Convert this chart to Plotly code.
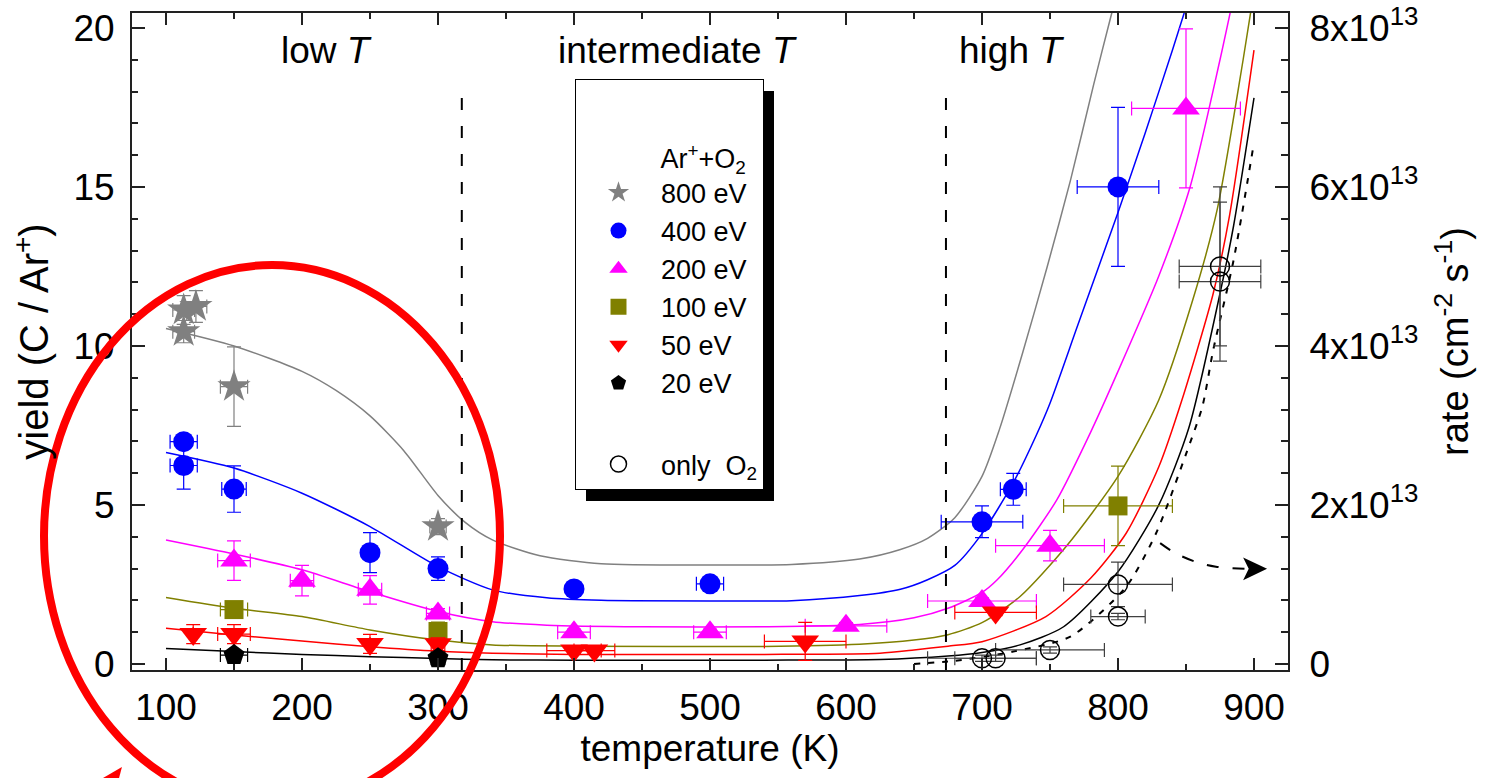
import plotly.graph_objects as go

FONT = "Arial, 'Liberation Sans', Helvetica, sans-serif"

# ---- measured yields, Ar+ + O2 (temperature in K, yield in C per Ar+) ----
T_800 = [113, 122, 113, 150, 300]
Y_800 = [11.13, 11.24, 10.45, 8.72, 4.32]
DX_800 = [8, 8, 8, 10, 6]
DY_800 = [0.45, 0.5, 0.35, 1.25, 0.25]

T_400 = [113, 113, 150, 250, 300, 400, 500, 700, 723, 800]
Y_400 = [6.99, 6.24, 5.50, 3.50, 3.00, 2.36, 2.52, 4.47, 5.49, 15.0]
DX_400 = [10, 10, 9, 0, 0, 0, 10, 30, 9.5, 30]
DY_400 = [0, 0.74, 0.73, 0.63, 0.37, 0, 0, 0.5, 0.5, 2.5]

T_200 = [150, 200, 250, 300, 400, 500, 600, 700, 750, 850]
Y_200 = [3.25, 2.62, 2.33, 1.59, 1.0, 1.0, 1.2, 1.98, 3.72, 17.47]
DX_200 = [12, 8.6, 8.6, 8.5, 12, 12, 30, 40, 40, 40]
DY_200 = [0.62, 0.48, 0.45, 0.15, 0.1, 0.1, 0.1, 0.1, 0.48, 2.5]

T_100 = [150, 300, 800]
Y_100 = [1.71, 1.02, 4.97]
DX_100 = [10, 4, 40]
DY_100 = [0.15, 0.3, 1.25]

T_50 = [120, 150, 250, 300, 400, 415, 570, 710]
Y_50 = [0.94, 0.94, 0.63, 0.62, 0.42, 0.42, 0.71, 1.62]
DX_50 = [0, 12, 0, 5, 20, 15, 30, 30]
DY_50 = [0.3, 0.3, 0.3, 0.2, 0.1, 0.1, 0.6, 0.1]

T_20 = [150, 300]
Y_20 = [0.28, 0.18]
DX_20 = [10, 5]
DY_20 = [0.1, 0.1]

# ---- thermal rate with O2 only (cm^-2 s^-1), right axis ----
T_O2 = [700, 710, 750, 800, 800, 875, 875]
R_O2 = [0.072e13, 0.072e13, 0.176e13, 0.596e13, 1.0e13, 5.0e13, 4.81e13]
DX_O2 = [40, 30, 40, 20, 40, 30, 30]
DR_O2 = [0.04e13, 0.04e13, 0.04e13, 0.04e13, 0.28e13, 1.0e13, 1.0e13]

# ---- model curves ----
FIT_T_800 = [100, 150, 200, 225, 250, 275, 300, 320, 340, 375, 420, 500, 560, 610, 640, 660, 680,
             700, 713, 730, 748, 765, 782, 795, 805]
FIT_Y_800 = [10.55, 10.0, 9.2, 8.6, 7.8, 6.7, 5.3, 4.45, 3.9, 3.4, 3.15, 3.11, 3.13, 3.3, 3.6, 3.95, 4.6,
             5.9, 7.4, 9.8, 12.5, 15.2, 18.2, 20.4, 22.0]

FIT_T_400 = [100, 150, 200, 250, 300, 340, 380, 420, 500, 560, 610, 640, 660, 680, 700, 723, 740, 750,
             770, 800, 820, 840, 860]
FIT_Y_400 = [6.65, 6.16, 5.37, 4.32, 3.06, 2.33, 2.08, 2.0, 1.98, 1.99, 2.15, 2.35, 2.65, 3.1, 4.1, 5.7,
             7.2, 8.2, 10.6, 14.2, 16.7, 19.3, 22.0]

FIT_T_200 = [100, 150, 200, 250, 300, 340, 380, 450, 540, 610, 650, 675, 700, 711, 730, 755, 780, 800,
             830, 853, 875, 890]
FIT_Y_200 = [3.9, 3.46, 2.96, 2.27, 1.65, 1.33, 1.22, 1.17, 1.17, 1.24, 1.45, 1.75, 2.25, 2.64, 3.6, 5.16,
             7.3, 9.2, 12.2, 15.0, 19.0, 22.0]

FIT_T_100 = [100, 150, 200, 250, 300, 340, 400, 540, 610, 650, 675, 700, 728, 762, 800, 830, 855, 873,
             892, 905]
FIT_Y_100 = [2.09, 1.75, 1.49, 1.07, 0.75, 0.6, 0.56, 0.55, 0.62, 0.75, 0.92, 1.3, 2.12, 3.7, 5.9, 8.3,
             11.45, 14.3, 19.0, 22.5]

FIT_T_50 = [100, 150, 200, 250, 300, 340, 400, 540, 625, 650, 675, 700, 747, 780, 806, 830, 847, 870,
            882, 900]
FIT_Y_50 = [1.12, 0.91, 0.72, 0.54, 0.4, 0.34, 0.3, 0.3, 0.34, 0.44, 0.56, 0.7, 1.49, 2.7, 4.11, 6.2,
            8.3, 11.65, 14.1, 19.3]

FIT_T_20 = [100, 150, 200, 250, 300, 340, 400, 540, 625, 675, 700, 728, 760, 800, 830, 852, 875, 885, 900]
FIT_Y_20 = [0.49, 0.39, 0.3, 0.23, 0.17, 0.13, 0.12, 0.12, 0.14, 0.25, 0.36, 0.6, 1.17, 2.9, 5.0, 7.41,
            11.65, 13.78, 17.8]

FIT_T_O2 = [650, 680, 723, 765, 806, 828, 850, 862, 870, 885, 900]
FIT_R_O2 = [0.0, 0.04e13, 0.156e13, 0.344e13, 0.972e13, 1.644e13, 2.64e13, 3.236e13, 3.948e13,
            5.08e13, 6.56e13]

# dashed pointer from the O2 curve towards the rate axis
ARROW_T = [831, 842, 858, 872, 893]
ARROW_Y = [3.8, 3.49, 3.2, 3.06, 2.99]
ARROW_TIP = (909.6, 2.99)

# temperature regimes
REGIME_EDGES = [317.5, 673.5]
REGIME_LABELS = ["low <i>T</i>", "intermediate <i>T</i>", "high <i>T</i>"]
REGIME_CENTERS = [218, 476, 722]

X_RANGE = [75, 925]
Y_RANGE = [-0.19, 20.47]
RATE_PER_YIELD = 4e12

GRAY, BLUE, MAGENTA, OLIVE, RED, BLACK = "#808080", "#0000ff", "#ff00ff", "#808000", "#ff0000", "#000000"

# plot-area geometry (px) used for paper-referenced decorations
PL, PR, PT, PB = 132, 1288, 13, 670


def px(xp):
    return (xp - PL) / (PR - PL)


def py(yp):
    return (PB - yp) / (PB - PT)


fig = go.Figure()


def add_fit(t, y, color, yaxis="y", dash="solid", width=1.5):
    fig.add_trace(go.Scatter(
        x=t, y=y, mode="lines", yaxis=yaxis, showlegend=False, hoverinfo="skip",
        line=dict(color=color, width=width, dash=dash, shape="spline", smoothing=0.7),
    ))


for t, y, c in [(FIT_T_800, FIT_Y_800, GRAY), (FIT_T_400, FIT_Y_400, BLUE),
                (FIT_T_200, FIT_Y_200, MAGENTA), (FIT_T_100, FIT_Y_100, OLIVE),
                (FIT_T_50, FIT_Y_50, RED), (FIT_T_20, FIT_Y_20, BLACK)]:
    add_fit(t, y, c)
add_fit(FIT_T_O2, FIT_R_O2, BLACK, yaxis="y2", dash="6px,8px", width=2)

# dashed pointer
fig.add_trace(go.Scatter(x=ARROW_T, y=ARROW_Y, mode="lines", showlegend=False, hoverinfo="skip",
                         line=dict(color=BLACK, width=2, dash="12px,14px", shape="spline")))


def add_points(name, t, y, dx, dy, symbol, color, size, group, yaxis="y", errcolor=None,
               line=None):
    ec = errcolor or color
    fig.add_trace(go.Scatter(
        x=t, y=y, mode="markers", name=name, yaxis=yaxis, legendgroup=group,
        marker=dict(symbol=symbol, color=color, size=size, line=line or dict(width=0)),
        error_x=dict(type="data", array=dx, visible=True, color=ec, thickness=1.2, width=7),
        error_y=dict(type="data", array=dy, visible=True, color=ec, thickness=1.2, width=7),
    ))


add_points("800 eV", T_800, Y_800, DX_800, DY_800, "star", GRAY, 25, "ion")
add_points("400 eV", T_400, Y_400, DX_400, DY_400, "circle", BLUE, 21, "ion")
add_points("200 eV", T_200, Y_200, DX_200, DY_200, "triangle-up", MAGENTA, 24, "ion")
add_points("100 eV", T_100, Y_100, DX_100, DY_100, "square", OLIVE, 19, "ion")
add_points("50 eV", T_50, Y_50, DX_50, DY_50, "triangle-down", RED, 24, "ion")
add_points("20 eV", T_20, Y_20, DX_20, DY_20, "pentagon", BLACK, 22, "ion")
add_points("only&#160;&#160;O<sub>2</sub>", T_O2, R_O2, DX_O2, DR_O2, "circle-open", BLACK, 19, "o2",
           yaxis="y2", errcolor="#404040", line=dict(width=1.5, color=BLACK))

shapes = []
for xe in REGIME_EDGES:
    shapes.append(dict(type="line", xref="x", yref="y", x0=xe, x1=xe, y0=Y_RANGE[0], y1=18,
                       line=dict(color=BLACK, width=2, dash="12px,16px")))

# arrowhead of the pointer (stealth style)
tx, ty = ARROW_TIP
shapes.append(dict(type="path", xref="x", yref="y", fillcolor=BLACK, line=dict(width=0),
                   path=f"M {tx},{ty} L {tx-17.6},{ty+0.36} L {tx-13.5},{ty} L {tx-17.6},{ty-0.36} Z"))

# legend shadow
shapes.append(dict(type="rect", xref="paper", yref="paper", layer="above",
                   x0=px(586), x1=px(774), y0=py(501), y1=py(91),
                   fillcolor=BLACK, line=dict(width=0)))

# highlight ellipse around the low-temperature regime
shapes.append(dict(type="circle", xref="paper", yref="paper", layer="above",
                   x0=px(44), x1=px(500), y0=py(807), y1=py(265),
                   line=dict(color="#ff0000", width=8)))
shapes.append(dict(type="path", xref="paper", yref="paper", layer="above", fillcolor="#ff0000",
                   line=dict(width=0),
                   path="M {:.4f},{:.4f} L {:.4f},{:.4f} L {:.4f},{:.4f} Z".format(
                       px(103), py(778), px(122), py(767), px(119), py(778))))

annotations = [dict(x=xc, y=19.3, xref="x", yref="y", text=lab, showarrow=False,
                    font=dict(size=37, family=FONT, color=BLACK))
               for xc, lab in zip(REGIME_CENTERS, REGIME_LABELS)]

axis_common = dict(showline=True, linecolor="#222", linewidth=2, ticks="inside",
                   tickcolor="#222", tickwidth=1.5, showgrid=False, zeroline=False,
                   automargin=False, tickfont=dict(size=37, family=FONT, color=BLACK))

fig.update_layout(
    width=1491, height=778,
    margin=dict(l=PL, r=1491 - PR, t=PT, b=778 - PB),
    paper_bgcolor="white", plot_bgcolor="white",
    font=dict(family=FONT, color=BLACK),
    xaxis=dict(range=X_RANGE, tickvals=list(range(100, 901, 100)), ticklen=12, mirror="ticks",
               ticklabelstandoff=4,
               minor=dict(dtick=50, ticks="inside", ticklen=6, tickcolor="#222", tickwidth=1.5),
               title=dict(text="temperature (K)", font=dict(size=37, family=FONT), standoff=6),
               **axis_common),
    yaxis=dict(range=Y_RANGE, tickvals=[0, 5, 10, 15, 20], ticklen=13, ticklabelstandoff=8,
               minor=dict(dtick=1, ticks="inside", ticklen=6, tickcolor="#222", tickwidth=1.5),
               title=dict(text="yield (C / Ar<sup>+</sup>)", font=dict(size=40, family=FONT), standoff=12),
               **axis_common),
    yaxis2=dict(overlaying="y", side="right",
                range=[Y_RANGE[0] * RATE_PER_YIELD, Y_RANGE[1] * RATE_PER_YIELD],
                tickvals=[0, 2e13, 4e13, 6e13, 8e13],
                ticktext=["0", "2x10<sup>13</sup>", "4x10<sup>13</sup>", "6x10<sup>13</sup>",
                          "8x10<sup>13</sup>"],
                ticklen=13, ticklabelstandoff=12,
                minor=dict(dtick=4e12, ticks="inside", ticklen=7, tickcolor="#222", tickwidth=1.5),
                title=dict(text="rate (cm<sup>-2</sup> s<sup>-1</sup>)", font=dict(size=38, family=FONT),
                           standoff=24),
                **axis_common),
    legend=dict(x=px(575), y=py(79), xanchor="left", yanchor="top",
                bgcolor="white", bordercolor=BLACK, borderwidth=1,
                font=dict(size=27, family=FONT, color=BLACK),
                itemwidth=75, tracegroupgap=43, itemsizing="trace",
                title=dict(text="<br><span style='font-size:27px'>"
                                + "&#160;" * 11 + "Ar<sup>+</sup>+O<sub>2</sub></span>",
                           font=dict(size=34, family=FONT))),
    shapes=shapes,
    annotations=annotations,
)

fig.write_html("out.html")
